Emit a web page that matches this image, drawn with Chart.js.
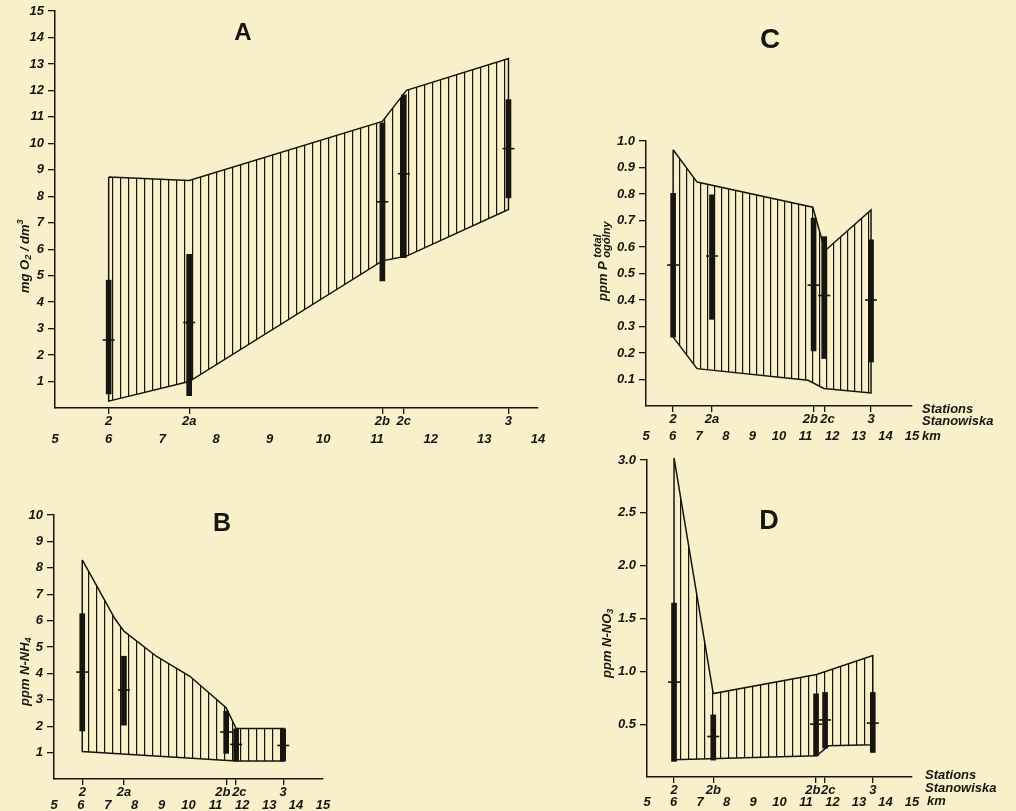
<!DOCTYPE html>
<html>
<head>
<meta charset="utf-8">
<script src="https://cdn.jsdelivr.net/npm/chart.js@4.4.1/dist/chart.umd.min.js"></script>
<style>
  html, body { margin: 0; padding: 0; background: #f8f0cb; }
  body { width: 1016px; height: 811px; position: relative; overflow: hidden; }
  canvas { position: absolute; left: 0; top: 0; }
</style>
</head>
<body>
<canvas id="chartA" width="1016" height="811"></canvas>
<canvas id="chartB" width="1016" height="811"></canvas>
<canvas id="chartC" width="1016" height="811"></canvas>
<canvas id="chartD" width="1016" height="811"></canvas>
<script>
// --- A: dissolved oxygen, mg O2/dm3 ---
const stationsA = ['2', '2a', '2b', '2c', '3'];
const kmA = [6, 7.5, 11.1, 11.5, 13.45];
const oxyTopKm = [6, 7.5, 11.1, 11.55, 13.45];
const oxyTop = [8.73, 8.6, 10.83, 12.0, 13.2];
const oxyBotKm = [6, 7.5, 11.1, 11.55, 13.45];
const oxyBot = [0.26, 1.0, 5.56, 5.74, 7.5];
const oxyLow = [0.53, 0.47, 4.8, 5.68, 7.94];
const oxyHigh = [4.83, 5.81, 10.77, 11.83, 11.65];
const oxyMean = [2.57, 3.23, 7.79, 8.85, 9.8];
const yTicksA = [1, 2, 3, 4, 5, 6, 7, 8, 9, 10, 11, 12, 13, 14, 15];
const kmTicksA = [5, 6, 7, 8, 9, 10, 11, 12, 13, 14];

// --- B: ammonium, ppm N-NH4 ---
const stationsB = ['2', '2a', '2b', '2c', '3'];
const kmB = [6.05, 7.6, 11.4, 11.77, 13.52];
const nh4TopKm = [6.05, 6.65, 7.27, 7.6, 8.8, 10.05, 11.4, 11.77, 13.55];
const nh4Top = [8.3, 7.2, 6.06, 5.6, 4.65, 3.89, 2.7, 1.91, 1.91];
const nh4BotKm = [6.05, 11.77, 13.55];
const nh4Bot = [1.04, 0.68, 0.68];
const nh4Low = [1.82, 2.04, 0.97, 0.68, 0.68];
const nh4High = [6.26, 4.65, 2.57, 1.9, 1.9];
const nh4Mean = [4.05, 3.37, 1.78, 1.31, 1.27];
const yTicksB = [1, 2, 3, 4, 5, 6, 7, 8, 9, 10];
const kmTicksB = [5, 6, 7, 8, 9, 10, 11, 12, 13, 14, 15];

// --- C: total phosphorus, ppm P ---
const stationsC = ['2', '2a', '2b', '2c', '3'];
const kmC = [6.02, 7.48, 11.3, 11.7, 13.46];
const pTopKm = [6.02, 6.92, 11.27, 11.73, 13.46];
const pTop = [0.967, 0.845, 0.75, 0.586, 0.74];
const pBotKm = [6.02, 6.92, 11.09, 11.69, 13.46];
const pBot = [0.26, 0.141, 0.097, 0.066, 0.049];
const pLow = [0.26, 0.327, 0.208, 0.179, 0.166];
const pHigh = [0.803, 0.797, 0.709, 0.639, 0.627];
const pMean = [0.532, 0.566, 0.456, 0.417, 0.40];
const yTicksC = [0.1, 0.2, 0.3, 0.4, 0.5, 0.6, 0.7, 0.8, 0.9, 1.0];
const kmTicksC = [5, 6, 7, 8, 9, 10, 11, 12, 13, 14, 15];

// --- D: nitrate, ppm N-NO3 ---
const stationsD = ['2', '2b', '2b', '2c', '3'];
const kmD = [6.02, 7.5, 11.38, 11.72, 13.52];
const no3TopKm = [6.02, 7.5, 11.4, 13.52];
const no3Top = [3.02, 0.79, 0.97, 1.15];
const no3BotKm = [6.02, 11.4, 11.85, 13.52];
const no3Bot = [0.163, 0.2, 0.295, 0.305];
const no3Low = [0.147, 0.16, 0.2, 0.273, 0.232];
const no3High = [1.645, 0.588, 0.787, 0.8, 0.8];
const no3Mean = [0.898, 0.383, 0.5, 0.54, 0.51];
const yTicksD = [0.5, 1.0, 1.5, 2.0, 2.5, 3.0];
const kmTicksD = [5, 6, 7, 8, 9, 10, 11, 12, 13, 14, 15];

const ink = '#17150f';
const family = '"Liberation Sans", Arial, sans-serif';
const tickFont = { family: family, style: 'italic', weight: 'bold', size: 13, lineHeight: 1 };
const yW = 48, xH = 18, kmH = 22;

// rotated axis label, starting at (x, y) and reading upwards
function drawRotated(ctx, x, y, parts, size) {
    ctx.save();
    ctx.translate(x, y);
    ctx.rotate(-Math.PI / 2);
    ctx.textBaseline = 'middle';
    ctx.textAlign = 'left';
    let cx = 0;
    parts.forEach(pt => {
        ctx.font = `italic bold ${size * (pt.s || 1)}px ${family}`;
        ctx.fillText(pt.t, cx, pt.dy || 0);
        if (!pt.hold) cx += ctx.measureText(pt.t).width;
    });
    ctx.restore();
}

function textPlugin(p) {
    return {
        id: 'panelText',
        afterDraw(chart) {
            const ctx = chart.ctx;
            ctx.save();
            ctx.fillStyle = ink;
            ctx.font = `bold ${p.letterSize}px ${family}`;
            ctx.textAlign = 'center';
            ctx.textBaseline = 'middle';
            ctx.fillText(p.letter, p.letterX, p.letterY);
            drawRotated(ctx, p.labelX, p.labelY, p.labelParts, 13);
            ctx.font = `italic bold 13px ${family}`;
            ctx.textAlign = 'left';
            (p.side || []).forEach(s => ctx.fillText(s.t, s.x, s.y));
            ctx.restore();
        }
    };
}

function makePanel(p) {
    const ctx = document.getElementById(p.id).getContext('2d');
    const tile = document.createElement('canvas');
    tile.width = p.hatch;
    tile.height = 4;
    const tctx = tile.getContext('2d');
    tctx.fillStyle = ink;
    tctx.fillRect(0, 0, 1.2, 4);
    const hatch = ctx.createPattern(tile, 'repeat');

    // closed outline: top edge forwards, bottom edge back
    const env = p.topKm.map((x, i) => ({ x: x, y: p.top[i] }));
    for (let i = p.botKm.length - 1; i >= 0; i--) env.push({ x: p.botKm[i], y: p.bot[i] });
    env.push(env[0]);

    const pxPerKm = (p.r - p.l) / (p.xMax - p.xMin);
    const stationLabel = i => {
        let s = p.names[i];
        if (i + 1 < p.km.length && (p.km[i + 1] - p.km[i]) * pxPerKm < 16) s = s + '\u2002';
        if (i > 0 && (p.km[i] - p.km[i - 1]) * pxPerKm < 16) s = '\u2002' + s;
        return s;
    };

    return new Chart(ctx, {
        type: 'line',
        data: {
            datasets: [{
                type: 'line',
                data: env,
                fill: 'shape',
                backgroundColor: hatch,
                borderColor: ink,
                borderWidth: 1.5,
                pointRadius: 0,
                tension: 0,
                clip: false,
                order: 3
            }, {
                type: 'bar',
                data: p.km.map((x, i) => ({ x: x, y: [p.low[i], p.high[i]] })),
                backgroundColor: ink,
                barThickness: 5,
                order: 2
            }, {
                type: 'scatter',
                data: p.km.map((x, i) => ({ x: x, y: p.mean[i] })),
                pointStyle: 'line',
                pointRadius: 6,
                pointBorderColor: ink,
                pointBorderWidth: 1.6,
                order: 1
            }]
        },
        options: {
            responsive: false,
            animation: false,
            devicePixelRatio: 1,
            events: [],
            layout: {
                autoPadding: false,
                padding: { left: p.l - yW, right: 1016 - p.r, top: p.t, bottom: 811 - p.b - xH - kmH }
            },
            plugins: { legend: { display: false }, tooltip: { enabled: false } },
            scales: {
                x: {
                    type: 'linear', position: 'bottom', min: p.xMin, max: p.xMax, weight: 0, offset: false,
                    afterBuildTicks: s => { s.ticks = p.km.map(v => ({ value: v })); },
                    afterFit: s => { s.height = xH; },
                    grid: { offset: false, drawOnChartArea: false, drawTicks: true, tickLength: 6, color: ink, lineWidth: 1.3 },
                    border: { display: true, color: ink, width: 1.5 },
                    ticks: { autoSkip: false, maxRotation: 0, padding: p.stationPad, color: ink, font: tickFont,
                             callback: (v, i) => stationLabel(i) }
                },
                km: {
                    type: 'linear', axis: 'x', position: 'bottom', min: p.xMin, max: p.xMax, weight: 1, offset: false,
                    afterBuildTicks: s => { s.ticks = p.kmTicks.map(v => ({ value: v })); },
                    afterFit: s => { s.height = kmH; },
                    grid: { display: false, drawTicks: false, drawOnChartArea: false },
                    border: { display: false },
                    ticks: { autoSkip: false, maxRotation: 0, padding: p.kmPad, color: ink, font: tickFont,
                             callback: v => String(v) }
                },
                y: {
                    type: 'linear', position: 'left', min: 0, max: p.yMax,
                    afterBuildTicks: s => { s.ticks = p.yTicks.map(v => ({ value: v })); },
                    afterFit: s => { s.width = yW; },
                    grid: { drawOnChartArea: false, tickLength: 7, color: ink, lineWidth: 1.3 },
                    border: { color: ink, width: 1.5 },
                    ticks: { padding: 4, color: ink, font: tickFont, callback: v => p.yFmt(v) }
                }
            }
        },
        plugins: [textPlugin(p)]
    });
}

const intFmt = v => String(v);
const decFmt = v => v.toFixed(1);

makePanel({
    id: 'chartA', l: 55, r: 538, t: 11, b: 408, xMin: 5, xMax: 14, yMax: 15, hatch: 8,
    names: stationsA, km: kmA, topKm: oxyTopKm, top: oxyTop, botKm: oxyBotKm, bot: oxyBot,
    low: oxyLow, high: oxyHigh, mean: oxyMean, yTicks: yTicksA, kmTicks: kmTicksA, yFmt: intFmt,
    stationPad: 0.5, kmPad: 6.5,
    letter: 'A', letterX: 243, letterY: 33, letterSize: 24,
    labelX: 25, labelY: 293,
    labelParts: [{ t: 'mg O' }, { t: '2', s: 0.7, dy: 3 }, { t: ' / dm' }, { t: '3', s: 0.7, dy: -5 }]
});

makePanel({
    id: 'chartB', l: 54, r: 323, t: 515, b: 779, xMin: 5, xMax: 15, yMax: 10, hatch: 8,
    names: stationsB, km: kmB, topKm: nh4TopKm, top: nh4Top, botKm: nh4BotKm, bot: nh4Bot,
    low: nh4Low, high: nh4High, mean: nh4Mean, yTicks: yTicksB, kmTicks: kmTicksB, yFmt: intFmt,
    stationPad: 0.5, kmPad: 1.5,
    letter: 'B', letterX: 222, letterY: 524, letterSize: 25,
    labelX: 25, labelY: 706,
    labelParts: [{ t: 'ppm N-NH' }, { t: '4', s: 0.7, dy: 3 }]
});

makePanel({
    id: 'chartC', l: 646, r: 912, t: 141, b: 406, xMin: 5, xMax: 15, yMax: 1.0, hatch: 7,
    names: stationsC, km: kmC, topKm: pTopKm, top: pTop, botKm: pBotKm, bot: pBot,
    low: pLow, high: pHigh, mean: pMean, yTicks: yTicksC, kmTicks: kmTicksC, yFmt: decFmt,
    stationPad: 0.5, kmPad: 5.5,
    letter: 'C', letterX: 770, letterY: 40, letterSize: 28,
    labelX: 603, labelY: 301,
    labelParts: [{ t: 'ppm P ' }, { t: 'total', s: 0.85, dy: -5, hold: true }, { t: 'ogólny', s: 0.85, dy: 4 }],
    side: [{ t: 'Stations', x: 922, y: 409 }, { t: 'Stanowiska', x: 922, y: 421 }, { t: 'km', x: 922, y: 436 }]
});

makePanel({
    id: 'chartD', l: 647, r: 912, t: 460, b: 777, xMin: 5, xMax: 15, yMax: 3.0, hatch: 8,
    names: stationsD, km: kmD, topKm: no3TopKm, top: no3Top, botKm: no3BotKm, bot: no3Bot,
    low: no3Low, high: no3High, mean: no3Mean, yTicks: yTicksD, kmTicks: kmTicksD, yFmt: decFmt,
    stationPad: 0.5, kmPad: 0.5,
    letter: 'D', letterX: 769, letterY: 522, letterSize: 27,
    labelX: 607, labelY: 678,
    labelParts: [{ t: 'ppm N-NO' }, { t: '3', s: 0.7, dy: 3 }],
    side: [{ t: 'Stations', x: 925, y: 775 }, { t: 'Stanowiska', x: 925, y: 788 }, { t: 'km', x: 927, y: 801 }]
});
</script>
</body>
</html>
